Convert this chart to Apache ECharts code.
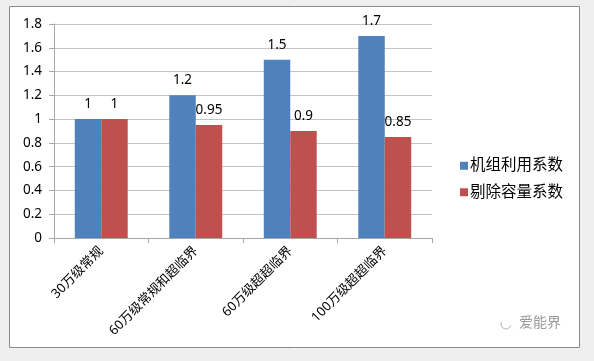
<!DOCTYPE html>
<html><head><meta charset="utf-8">
<script src="https://cdn.jsdelivr.net/npm/echarts@6/dist/echarts.min.js"></script>
<style>html,body{margin:0;padding:0;background:#efefef}#c{width:594px;height:361px}</style>
</head><body><div id="c"></div>
<script>
var categories = ['30万级常规', '60万级常规和超临界', '60万级超超临界', '100万级超超临界'];
var seriesNames = ['机组利用系数', '剔除容量系数'];
var utilization = [1, 1.2, 1.5, 1.7];
var removedCapacity = [1, 0.95, 0.9, 0.85];
var yTicks = [0, 0.2, 0.4, 0.6, 0.8, 1, 1.2, 1.4, 1.6, 1.8];

var font = '"Noto Sans", "Noto Sans CJK SC", sans-serif';
var chart = echarts.init(document.getElementById('c'));
chart.setOption({
  backgroundColor: '#efefef',
  animation: false,
  graphic: [
    {type: 'rect', z: -10, shape: {x: 9.5, y: 6.5, width: 570, height: 341},
     style: {fill: '#ffffff', stroke: '#8a8a8a', lineWidth: 1}},
    {type: 'text', left: 519, top: 315, style: {text: '爱能界', fill: '#9a9a9a', font: '14px "Noto Sans CJK SC", sans-serif'}},
    {type: 'arc', shape: {cx: 506, cy: 324, r: 5, startAngle: 0.3, endAngle: 3.6}, style: {stroke: '#b0b0b0', lineWidth: 1, fill: 'none'}}
  ],
  grid: {left: 54, right: 162, top: 24, bottom: 123},
  legend: {
    orient: 'vertical', left: 455, top: 153,
    icon: 'rect', itemWidth: 8, itemHeight: 8, itemGap: 11,
    textStyle: {fontSize: 15.5, color: '#000', fontFamily: font, padding: [0, 0, 0, -3]},
    data: seriesNames
  },
  xAxis: {
    type: 'category', data: categories,
    axisLine: {lineStyle: {color: '#a6a6a6'}},
    axisTick: {show: true, length: 5, lineStyle: {color: '#a6a6a6'}},
    axisLabel: {rotate: 45, fontSize: 13, color: '#000', fontFamily: font, margin: 11}
  },
  yAxis: {
    type: 'value', min: 0, max: 1.8, interval: 0.2,
    axisLine: {show: true, lineStyle: {color: '#a6a6a6'}},
    axisTick: {show: true, length: 5, lineStyle: {color: '#a6a6a6'}},
    splitLine: {lineStyle: {color: '#c4c4c4'}},
    axisLabel: {fontSize: 13.5, color: '#000', fontFamily: font, margin: 12,
      formatter: function (v) { var r = Math.round(v * 10) / 10; return yTicks.indexOf(r) >= 0 ? String(r) : ''; }}
  },
  series: [
    {name: seriesNames[0], type: 'bar', data: utilization, barGap: '0%', barCategoryGap: '44%',
     itemStyle: {color: '#4f81bd'},
     label: {show: true, position: 'top', distance: 8, fontSize: 13.5, color: '#000', fontFamily: font}},
    {name: seriesNames[1], type: 'bar', data: removedCapacity, barGap: '0%', barCategoryGap: '44%',
     itemStyle: {color: '#c0504d'},
     label: {show: true, position: 'top', distance: 8, fontSize: 13.5, color: '#000', fontFamily: font}}
  ]
});
</script></body></html>
